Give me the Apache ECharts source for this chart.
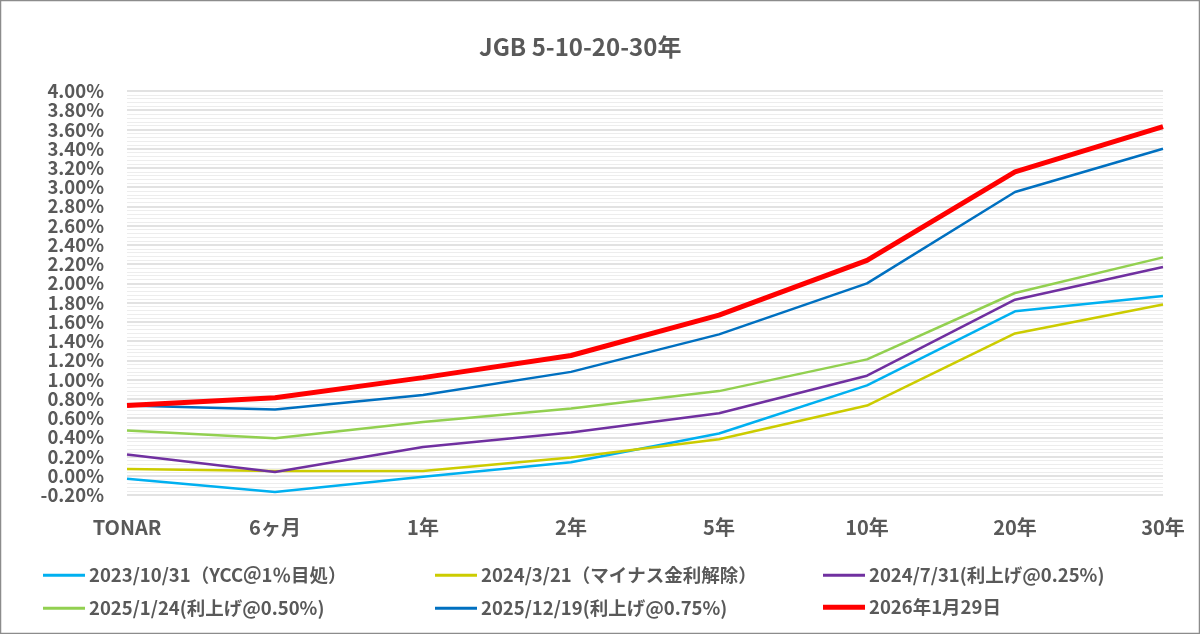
<!DOCTYPE html>
<html><head><meta charset="utf-8">
<script src="https://cdn.jsdelivr.net/npm/echarts@6/dist/echarts.min.js"></script>
<style>html,body{margin:0;padding:0;background:#fff}#c{width:1200px;height:634px}</style>
</head><body><div id="c"></div>
<script>
const categories = ['TONAR','6ヶ月','1年','2年','5年','10年','20年','30年'];
const seriesNames = ['2023/10/31（YCC＠1％目処）','2024/3/21（マイナス金利解除）','2024/7/31(利上げ@0.25%)','2025/1/24(利上げ@0.50%)','2025/12/19(利上げ@0.75%)','2026年1月29日'];
const s2023_10_31 = [-0.03,-0.17,-0.01,0.14,0.44,0.94,1.71,1.87];
const s2024_03_21 = [0.07,0.05,0.05,0.19,0.38,0.73,1.48,1.78];
const s2024_07_31 = [0.22,0.04,0.30,0.45,0.65,1.04,1.83,2.17];
const s2025_01_24 = [0.47,0.39,0.56,0.70,0.88,1.21,1.90,2.27];
const s2025_12_19 = [0.73,0.69,0.84,1.08,1.47,2.00,2.95,3.40];
const s2026_01_29 = [0.73,0.81,1.02,1.25,1.67,2.24,3.16,3.63];
const yTicks = {min:-0.2, max:4.0, interval:0.2};

const seriesData = [s2023_10_31,s2024_03_21,s2024_07_31,s2025_01_24,s2025_12_19,s2026_01_29];
const colors = ['#00B0F0','#CCCC00','#7030A0','#92D050','#0070C0','#FF0000'];
const widths = [2.5,2.5,2.5,2.5,2.5,5];
const FONT = '"Noto Sans CJK JP","Noto Sans",sans-serif';
const txt = {color:'#595959', fontFamily:FONT, fontWeight:'bold'};

const chart = echarts.init(document.getElementById('c'), null, {renderer:'canvas'});
const legendPos = [[38,555],[430,555],[818,555],[38,588],[430,588],[818,588]];
chart.setOption({
  animation:false,
  color:colors,
  title:{text:'JGB 5-10-20-30年', left:474, top:30, textStyle:{color:'#595959', fontFamily:FONT, fontWeight:'bold', fontSize:24}},
  grid:{left:127, right:37, top:91, bottom:139, containLabel:false},
  legend:seriesNames.map((n,i)=>({
    left:legendPos[i][0], top:legendPos[i][1] + 8 - Math.ceil(widths[i]/2), icon:'rect',
    itemWidth:42, itemHeight:widths[i] === 5 ? 5 : 3, itemGap:0,
    data:[n], selectedMode:false,
    textStyle:Object.assign({}, txt, {fontSize:18.5, padding:[0,0,0,-1]})
  })),
  xAxis:{type:'category', data:categories, boundaryGap:false,
    axisLine:{show:false}, axisTick:{show:false},
    axisLabel:Object.assign({}, txt, {fontSize:20, margin:22, interval:0})},
  yAxis:{type:'value', min:yTicks.min, max:yTicks.max, interval:yTicks.interval,
    axisLine:{show:false}, axisTick:{show:false},
    axisLabel:Object.assign({}, txt, {fontSize:18.5, margin:23, formatter:v=>v.toFixed(2)+'%'}),
    splitLine:{lineStyle:{color:'#D9D9D9', width:1.5}},
    minorTick:{show:false, splitNumber:5},
    minorSplitLine:{show:true, lineStyle:{color:'#EDEDED', width:1}}},
  graphic:[{type:'rect', shape:{x:0.5,y:0.5,width:1199,height:633}, style:{fill:'none', stroke:'#8C8C8C', lineWidth:1.5}, silent:true}],
  series:seriesData.map((d,i)=>({
    name:seriesNames[i], type:'line', data:d, symbol:'none', showSymbol:false,
    lineStyle:{color:colors[i], width:widths[i]}, itemStyle:{color:colors[i]},
    z: i+2
  }))
});
</script></body></html>
